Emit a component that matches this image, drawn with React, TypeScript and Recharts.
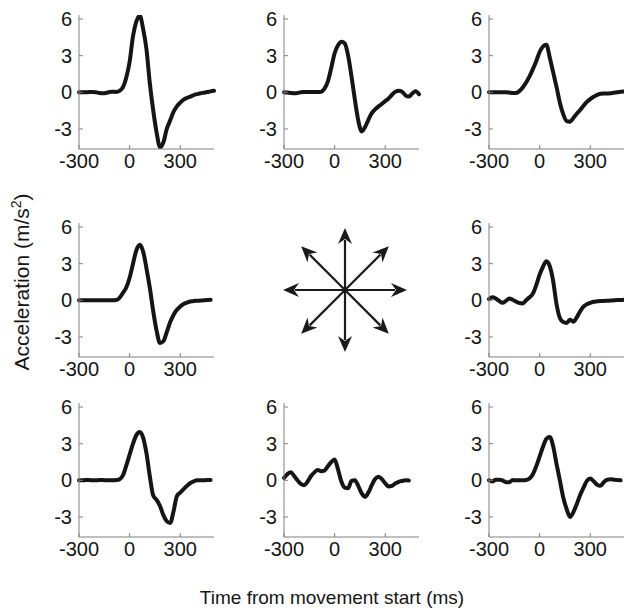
import { LineChart, Line, XAxis, YAxis } from "recharts";

// time from movement start (ms), sampled every 20 ms
const times = [
  -300, -280, -260, -240, -220, -200, -180, -160, -140, -120,
  -100, -80, -60, -40, -20, 0, 20, 40, 60, 80,
  100, 120, 140, 160, 180, 200, 220, 240, 260, 280,
  300, 320, 340, 360, 380, 400, 420, 440, 460, 480, 500,
];

// acceleration traces (m/s^2), one per movement direction
const topLeft = [
  0, 0, 0, 0.02, 0.02, 0, -0.05, -0.08, -0.05, 0.02,
  0.05, 0.03, 0.12, 0.4, 1.2, 2.5, 4.6, 5.8, 6.28, 5.2,
  3.5, 0.7, -1.5, -3.3, -4.5, -4.1, -3.0, -2.3, -1.6, -1.15,
  -0.85, -0.6, -0.45, -0.35, -0.22, -0.15, -0.08, -0.03, 0.02, 0.08, 0.12,
];
const topMid = [
  0, -0.02, -0.05, -0.07, -0.05, 0, 0.02, 0.03, 0.03, 0.03,
  0.03, 0.05, 0.3, 0.9, 2.0, 3.2, 3.85, 4.15, 4.0, 3.0,
  1.3, -0.6, -2.3, -3.2, -2.85, -2.25, -1.7, -1.4, -1.15, -0.95,
  -0.72, -0.5, -0.2, 0.05, 0.12, 0.05, -0.25, -0.35, -0.1, 0.08, -0.15,
];
const topRight = [
  0, 0, 0, 0, 0, 0, -0.02, -0.05, -0.05, 0.1,
  0.4, 0.8, 1.3, 1.9, 2.55, 3.3, 3.75, 3.9, 2.85, 1.65,
  0.45, -0.85, -1.8, -2.35, -2.4, -2.1, -1.75, -1.45, -1.1, -0.78,
  -0.55, -0.37, -0.22, -0.12, -0.1, -0.1, -0.08, -0.03, 0, 0.05, 0.07,
];
const midLeft = [
  0, 0, 0, 0, 0, 0, 0, 0, 0, 0,
  0, 0.02, 0.2, 0.6, 1.05, 1.85, 3.0, 4.1, 4.55, 4.0,
  2.6, 1.0, -0.9, -2.5, -3.5, -3.35, -2.6, -1.8, -1.2, -0.78,
  -0.5, -0.3, -0.18, -0.1, -0.05, -0.03, -0.02, 0, 0.02, 0.05, null,
];
const midRight = [
  0.1, 0.25, 0.15, -0.05, -0.2, -0.05, 0.15, 0.05, -0.1, -0.22,
  -0.25, 0, 0.25, 0.55, 1.25, 2.1, 2.75, 3.2, 2.8, 1.6,
  -0.3, -1.45, -1.78, -1.85, -1.6, -1.75, -1.4, -0.9, -0.52, -0.32,
  -0.2, -0.12, -0.08, -0.05, -0.05, -0.03, -0.02, 0, 0.02, 0.03, 0.05,
];
const botLeft = [
  0, 0, 0.02, 0.02, 0, 0, 0.02, 0.02, 0, 0,
  0, 0.02, 0.08, 0.4, 1.2, 2.1, 3.0, 3.7, 3.95, 3.5,
  2.2, 0.3, -1.25, -1.6, -2.1, -2.85, -3.35, -3.5, -2.55, -1.3,
  -1.0, -0.72, -0.45, -0.22, -0.08, 0, 0, 0, 0.02, 0.02, null,
];
const botMid = [
  0.2, 0.5, 0.67, 0.35, 0, -0.3, -0.4, -0.1, 0.35, 0.65,
  0.85, 0.75, 0.8, 1.15, 1.5, 1.7, 0.9, -0.1, -0.6, -0.65,
  -0.05, 0, -0.45, -1.05, -1.35, -1.0, -0.4, 0.1, 0.3, 0.1,
  -0.25, -0.5, -0.45, -0.25, -0.12, -0.05, 0, -0.02, null, null, null,
];
const botRight = [
  0, -0.1, 0.05, 0.05, 0, -0.15, -0.15, 0.02, 0, 0,
  0, 0.02, 0.15, 0.5, 1.15, 1.95, 2.75, 3.4, 3.55, 2.8,
  1.35, 0, -1.4, -2.35, -3.0, -2.6, -1.95, -1.2, -0.6, -0.05,
  0.15, -0.08, -0.35, -0.45, -0.15, 0.05, 0.08, 0.05, 0.02, 0, null,
];

const xTicks = [-300, 0, 300];
const yTicks = [-3, 0, 3, 6];
const arrowAngles = [0, 45, 90, 135, 180, 225, 270, 315];

const AXIS = "#808080";
const INK = "#151515";
const FONT = "'Liberation Sans', Arial, Helvetica, sans-serif";

const COLS = [79, 284, 489];
const ROWS = [15.3, 223.3, 403.3];
const PLOT_W = 135;
const PLOT_H = 134;
const Y_W = 40;
const X_H = 30;
const TOP = 14;
const RIGHT = 2;

const panels = [
  { values: topLeft, col: 0, row: 0 },
  { values: topMid, col: 1, row: 0 },
  { values: topRight, col: 2, row: 0 },
  { values: midLeft, col: 0, row: 1 },
  { values: midRight, col: 2, row: 1 },
  { values: botLeft, col: 0, row: 2 },
  { values: botMid, col: 1, row: 2 },
  { values: botRight, col: 2, row: 2 },
];

function XTick(props: any) {
  const { x, y, payload } = props;
  return (
    <g>
      <line x1={x} x2={x} y1={y} y2={y - 4} stroke={AXIS} />
      <text x={x} y={y + 19} textAnchor="middle" fontSize={20} fill={INK} fontFamily={FONT}>
        {payload.value}
      </text>
    </g>
  );
}

function YTick(props: any) {
  const { x, y, payload } = props;
  return (
    <g>
      <line x1={x} x2={x + 4} y1={y} y2={y} stroke={AXIS} />
      <text x={x - 7} y={y + 7} textAnchor="end" fontSize={20} fill={INK} fontFamily={FONT}>
        {payload.value}
      </text>
    </g>
  );
}

function Panel({ values, col, row }: { values: (number | null)[]; col: number; row: number }) {
  const data = times.map((t, i) => ({ t, v: values[i] }));
  return (
    <div style={{ position: "absolute", left: COLS[col] - Y_W, top: ROWS[row] - TOP }}>
      <LineChart
        width={Y_W + PLOT_W + RIGHT}
        height={TOP + PLOT_H + X_H}
        data={data}
        margin={{ top: TOP, right: RIGHT, bottom: 0, left: 0 }}
      >
        <XAxis
          dataKey="t"
          type="number"
          domain={[-300, 500]}
          ticks={xTicks}
          height={X_H}
          stroke={AXIS}
          tickLine={false}
          tickSize={0}
          tickMargin={0}
          tick={<XTick />}
        />
        <YAxis
          type="number"
          domain={[-4.64, 6.33]}
          ticks={yTicks}
          width={Y_W}
          stroke={AXIS}
          tickLine={false}
          tickSize={0}
          tickMargin={0}
          allowDataOverflow
          tick={<YTick />}
        />
        <Line
          dataKey="v"
          type="monotone"
          stroke={INK}
          strokeWidth={4}
          strokeLinecap="round"
          strokeLinejoin="round"
          dot={false}
          activeDot={false}
          isAnimationActive={false}
        />
      </LineChart>
    </div>
  );
}

function Arrows() {
  const cx = 345;
  const cy = 290;
  const r = 62;
  const head = 16;
  return (
    <svg width={624} height={611} style={{ position: "absolute", left: 0, top: 0 }}>
      {arrowAngles.map((a) => (
        <g key={a} transform={`translate(${cx},${cy}) rotate(${-a})`}>
          <line x1={0} y1={0} x2={r - head + 4} y2={0} stroke="#1a1a1a" strokeWidth={2.2} />
          <polygon
            points={`${r},0 ${r - head},7 ${r - head + 5},0 ${r - head},-7`}
            fill="#1a1a1a"
          />
        </g>
      ))}
    </svg>
  );
}

export default function App() {
  return (
    <div
      style={{
        position: "absolute",
        left: 0,
        top: 0,
        width: 624,
        height: 611,
        overflow: "hidden",
        background: "#fff",
        fontFamily: FONT,
      }}
    >
      <Arrows />
      {panels.map((p, i) => (
        <Panel key={i} {...p} />
      ))}
      <svg width={624} height={611} style={{ position: "absolute", left: 0, top: 0, pointerEvents: "none" }}>
        <text
          transform="translate(29,282) rotate(-90)"
          textAnchor="middle"
          fontSize={21}
          fill={INK}
          fontFamily={FONT}
        >
          Acceleration (m/s<tspan dy={-8} fontSize={14}>2</tspan><tspan dy={8}>)</tspan>
        </text>
        <text x={332} y={604} textAnchor="middle" fontSize={19} fill={INK} fontFamily={FONT}>
          Time from movement start (ms)
        </text>
      </svg>
    </div>
  );
}
